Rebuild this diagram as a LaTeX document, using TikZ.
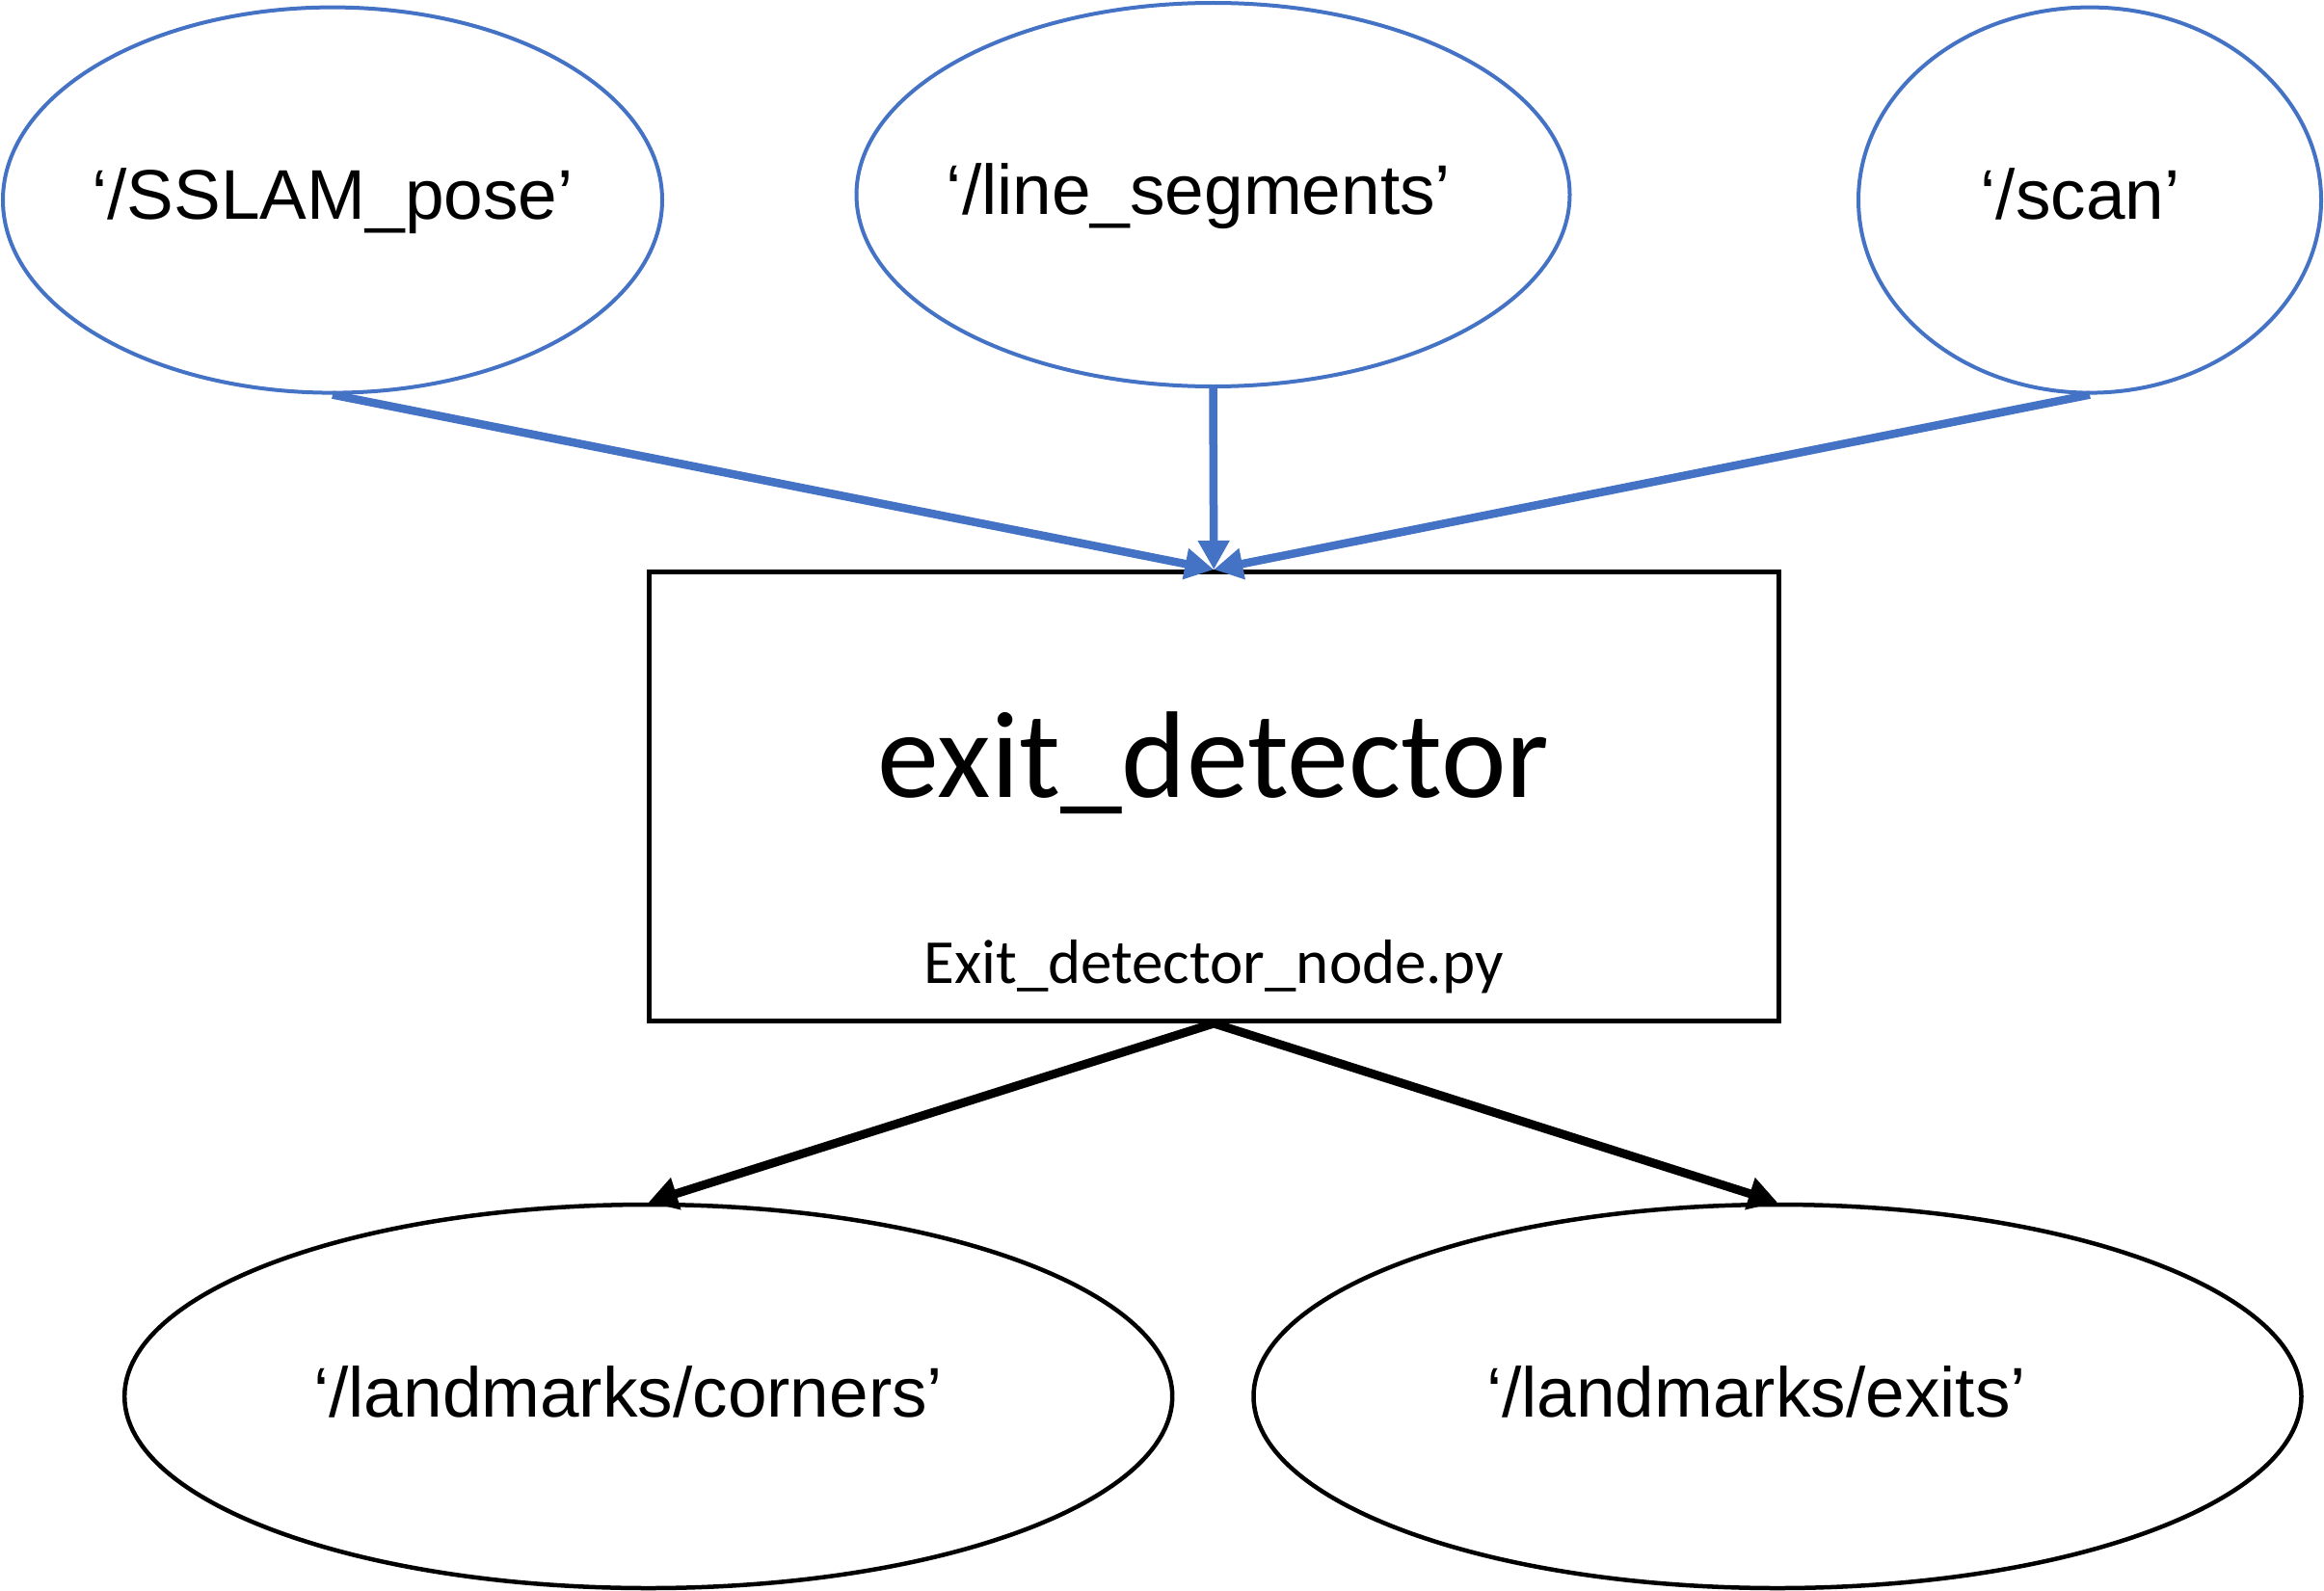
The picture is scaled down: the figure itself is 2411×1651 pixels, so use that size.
\documentclass[tikz,border=0pt]{standalone}
\usepackage{fontspec}
\usetikzlibrary{arrows.meta,shapes.geometric}
\newfontfamily\arialf{Liberation Sans}
\newfontfamily\calf{Carlito}
\definecolor{officeblue}{HTML}{4472C4}
\tikzset{
  topictext/.style={inner sep=0pt, font=\arialf\fontsize{73}{80}\selectfont, text height=40pt, text depth=0pt},
  outtext/.style={inner sep=0pt, font=\arialf\fontsize{73}{80}\selectfont, text height=42pt, text depth=0pt},
  topic/.style={ellipse, draw=officeblue, line width=4pt, inner sep=0pt},
  outtopic/.style={ellipse, draw=black, line width=4.5pt, inner sep=0pt},
  nodebox/.style={rectangle, draw=black, line width=5pt, inner sep=0pt},
  inarrow/.style={draw=officeblue, line width=8.5pt, -{Triangle[length=30pt,width=31pt]}},
  outarrow/.style={draw=black, line width=9pt, -{Triangle[length=30pt,width=33pt]}}
}
\begin{document}
\begin{tikzpicture}[x=1pt,y=-1pt]
\useasboundingbox (0,0) rectangle (2411,1651);
\node[topic, minimum width=684pt, minimum height=400pt,
  label={[topictext]center:‘/SSLAM\_pose’}] (pose) at (345,207.6) {};
\node[topic, minimum width=740pt, minimum height=398pt,
  label={[topictext, xshift=-15pt]center:‘/line\_segments’}] (seg) at (1258.5,202) {};
\node[topic, minimum width=480pt, minimum height=400pt,
  label={[topictext, xshift=-10pt]center:‘/scan’}] (scan) at (2168,207.6) {};
\node[nodebox, minimum width=1171.5pt, minimum height=466pt] (box) at (1259.25,826.5) {};
\node[anchor=base, inner sep=0pt, font=\calf\fontsize{128}{140}\selectfont] (title) at (1259,827) {exit\_detector};
\node[anchor=base, inner sep=0pt, font=\calf\fontsize{65}{72}\selectfont] (file) at (1259,1020) {Exit\_detector\_node.py};
\node[outtopic, minimum width=1087pt, minimum height=398pt,
  label={[outtext, xshift=-21pt]center:‘/landmarks/corners’}] (corners) at (672.7,1449) {};
\node[outtopic, minimum width=1087pt, minimum height=398pt,
  label={[outtext, xshift=-22pt]center:‘/landmarks/exits’}] (exits) at (1844,1449) {};
\draw[inarrow] (pose.south) -- (box.north);
\draw[inarrow] (seg.south) -- (box.north);
\draw[inarrow] (scan.south) -- (box.north);
\draw[outarrow] (box.south) -- (corners.north);
\draw[outarrow] (box.south) -- (exits.north);
\end{tikzpicture}
\end{document}
